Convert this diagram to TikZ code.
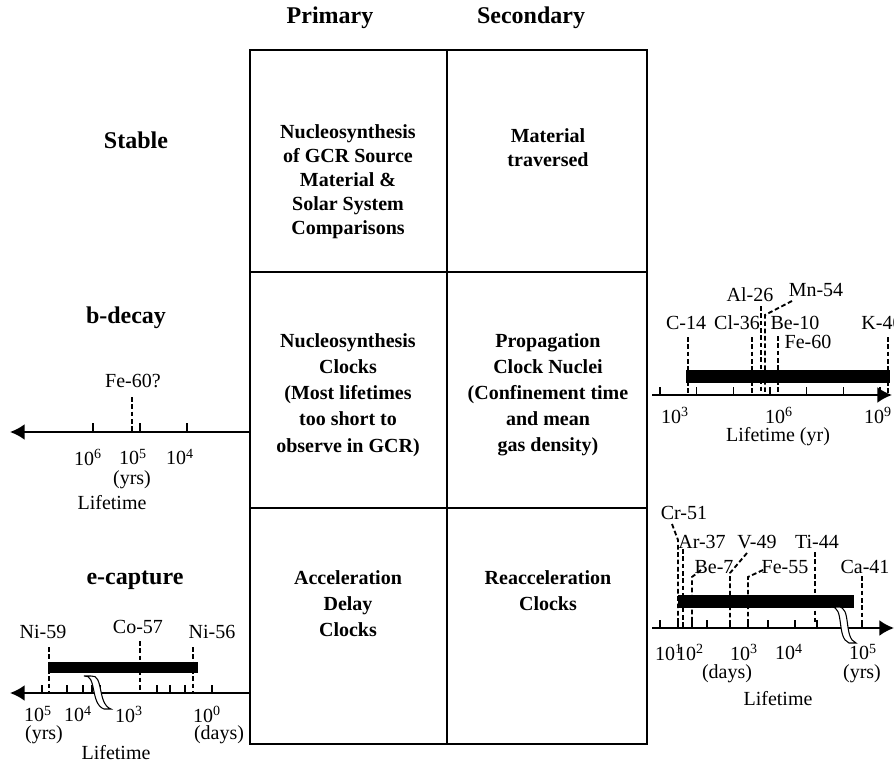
\documentclass[tikz,border=0pt]{standalone}
\usepackage{fontspec}
\setmainfont{Liberation Serif}
\usepackage{tikz}
\usetikzlibrary{arrows.meta, positioning}

\newcommand{\pw}[1]{10\textsuperscript{#1}}

\begin{document}
\begin{tikzpicture}[x=0.75pt, y=-0.75pt,
  grid/.style={line width=1.8pt},
  head/.style={font=\fontsize{18}{21}\selectfont\bfseries},
  cell/.style={align=center, font=\fontsize{15}{18}\selectfont\bfseries},
  tallcell/.style={align=center, font=\fontsize{15}{19.6}\selectfont\bfseries},
  lbl/.style={font=\fontsize{15}{17}\selectfont, inner sep=0pt},
  axis/.style={line width=1.6pt, -{Latex[length=11pt, width=12pt]}},
  tick/.style={line width=1pt},
  iso/.style={line width=1.4pt, dash pattern=on 3.5pt off 2pt},
  bar/.style={fill=black},
  brk/.style={fill=white, draw=black, line width=0.8pt}
]
  \useasboundingbox (0,0) rectangle (894,767);

  % table
  \draw[grid] (250,50) rectangle (647,744);
  \draw[grid] (447,50) -- (447,744);
  \draw[grid] (250,272) -- (647,272);
  \draw[grid] (250,508) -- (647,508);

  \node[head] (prim) at (330,18) {Primary};
  \node[head] (sec) at (531,18) {Secondary};
  \node[head] (stable) at (136,140) {Stable};
  \node[head] (bdecay) at (126,318) {b-decay};
  \node[head] (ecap) at (135,580) {e-capture};

  \node[cell] (nucsrc) at (348,182) {Nucleosynthesis\\of GCR Source\\Material \&\\Solar System\\Comparisons};
  \node[cell] (matter) at (548,148) {Material\\traversed};
  \node[tallcell] (nucclk) at (348,395) {Nucleosynthesis\\Clocks\\(Most lifetimes\\too short to\\observe in GCR)};
  \node[tallcell] (propclk) at (548,395) {Propagation\\Clock Nuclei\\(Confinement time\\and mean\\gas density)};
  \node[tallcell] (accclk) at (348,604) {Acceleration\\Delay\\Clocks};
  \node[tallcell] (reaccclk) at (548,591) {Reacceleration\\Clocks};

  % b-decay, primary
  \coordinate (ax0s) at (250,432);
  \coordinate (ax0e) at (10,432);
  \foreach \x in {93,140,187} \draw[tick] (\x,432) -- (\x,423);
  \draw[axis] (ax0s) -- (ax0e);
  \node[lbl] (fe60q) at (133,381) {Fe-60?};
  \draw[iso] (132,397) -- (132,432);
  \node[lbl] (t06) at (88,457) {\pw{6}};
  \node[lbl] (t05) at (133,457) {\pw{5}};
  \node[lbl] (t04) at (180,457) {\pw{4}};
  \node[lbl] (yrs0) at (132,480) {(yrs)};
  \node[lbl] (life0) at (112,503) {Lifetime};

  % e-capture, primary
  \coordinate (ax1s) at (250,693);
  \coordinate (ax1e) at (10,693);
  \draw[bar] (48,662) rectangle (197,672);
  \foreach \x in {42,67,83,92,100,157,170,185,212} \draw[tick] (\x,693) -- (\x,685);
  \draw[axis] (ax1s) -- (ax1e);
  \node[lbl] (ni59) at (43,632) {Ni-59};
  \node[lbl] (co57) at (138,627) {Co-57};
  \node[lbl] (ni56) at (212,632) {Ni-56};
  \draw[iso] (49,647) -- (49,693);
  \draw[iso] (140,641) -- (140,693);
  \draw[iso] (193,647) -- (193,693);
  \draw[brk] (84,676) .. controls (97,674) and (90,704) .. (104,709)
    -- (111,709) .. controls (97,704) and (104,674) .. (91,676) -- cycle;
  \node[lbl] (u05) at (38,714) {\pw{5}};
  \node[lbl] (u04) at (78,714) {\pw{4}};
  \node[lbl] (u03) at (129,714) {\pw{3}};
  \node[lbl] (u00) at (207,714) {\pw{0}};
  \node[lbl] (yrs1) at (44,735) {(yrs)};
  \node[lbl] (days1) at (219,735) {(days)};
  \node[lbl] (life1) at (116,753) {Lifetime};

  % b-decay, secondary
  \coordinate (ax2s) at (652,395);
  \coordinate (ax2e) at (892,395);
  \draw[bar] (686,370) rectangle (889,382);
  \foreach \x in {660,696.7,733.3,770,806.7,843.3,880} \draw[tick] (\x,395) -- (\x,387);
  \draw[axis] (ax2s) -- (ax2e);
  \node[lbl] (c14) at (686,323) {C-14};
  \node[lbl] (cl36) at (737,323) {Cl-36};
  \node[lbl] (al26) at (750,295) {Al-26};
  \node[lbl] (mn54) at (816,290) {Mn-54};
  \node[lbl] (be10) at (795,323) {Be-10};
  \node[lbl] (fe60) at (808,342) {Fe-60};
  \node[lbl] (k40) at (882,323) {K-40};
  \draw[iso] (688,337) -- (688,395);
  \draw[iso] (752,337) -- (752,395);
  \draw[iso] (761,306) -- (761,395);
  \draw[iso] (792,301) -- (765,315) -- (765,395);
  \draw[iso] (778,336) -- (778,395);
  \draw[iso] (888,337) -- (888,395);
  \node[lbl] (v03) at (675,415) {\pw{3}};
  \node[lbl] (v06) at (779,415) {\pw{6}};
  \node[lbl] (v09) at (878,415) {\pw{9}};
  \node[lbl] (life2) at (778,437) {Lifetime (yr)};

  % e-capture, secondary
  \coordinate (ax3s) at (652,628);
  \coordinate (ax3e) at (894,628);
  \draw[bar] (678,595) rectangle (853,607);
  \foreach \x in {660,678,692,707,730,748,768,795,817,862} \draw[tick] (\x,628) -- (\x,620);
  \draw[axis] (ax3s) -- (ax3e);
  \node[lbl] (cr51) at (684,513) {Cr-51};
  \node[lbl] (ar37) at (702,542) {Ar-37};
  \node[lbl] (be7) at (714,567) {Be-7};
  \node[lbl] (v49) at (757,542) {V-49};
  \node[lbl] (fe55) at (785,567) {Fe-55};
  \node[lbl] (ti44) at (817,542) {Ti-44};
  \node[lbl] (ca41) at (865,567) {Ca-41};
  \draw[iso] (672,524) -- (678,540) -- (678,628);
  \draw[iso] (683,549) -- (683,628);
  \draw[iso] (701,570) -- (692,577) -- (692,628);
  \draw[iso] (747,553) -- (730,573) -- (730,628);
  \draw[iso] (763,570) -- (748,577) -- (748,628);
  \draw[iso] (815,552) -- (815,622);
  \draw[iso] (862,576) -- (862,628);
  \draw[brk] (831,607) .. controls (845,606) and (836,638) .. (849,643)
    -- (856,643) .. controls (843,638) and (852,606) .. (838,607) -- cycle;
  \node[lbl] (w01) at (669,652) {\pw{1}};
  \node[lbl] (w02) at (690,652) {\pw{2}};
  \node[lbl] (w03) at (744,652) {\pw{3}};
  \node[lbl] (w04) at (789,652) {\pw{4}};
  \node[lbl] (w05) at (863,652) {\pw{5}};
  \node[lbl] (days3) at (727,674) {(days)};
  \node[lbl] (yrs3) at (862,674) {(yrs)};
  \node[lbl] (life3) at (778,699) {Lifetime};
\end{tikzpicture}
\end{document}
